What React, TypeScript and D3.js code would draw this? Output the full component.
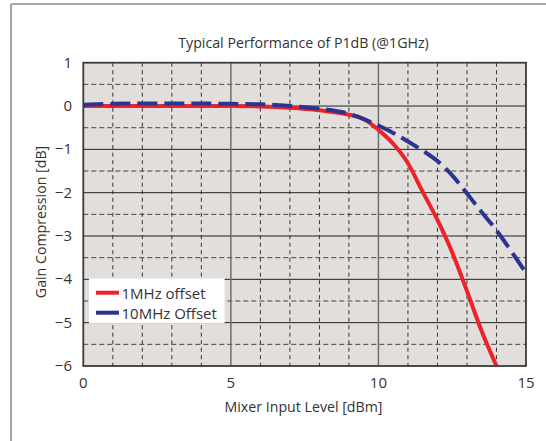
import React from "react";
import * as d3 from "d3";

const xRed = [0, 1, 2, 3, 4, 5, 6, 7, 8, 9, 9.5, 10, 10.5, 11, 11.5, 12, 12.5, 13, 13.5, 14];
const yRed = [0, 0, 0, 0, 0, 0, -0.01, -0.04, -0.1, -0.2, -0.3, -0.55, -0.87, -1.32, -1.98, -2.63, -3.38, -4.27, -5.2, -6];
const xBlue = [0, 1, 2, 3, 4, 5, 6, 7, 8, 9, 9.5, 10, 10.5, 11, 11.5, 12, 12.5, 13, 13.5, 14, 14.5, 15];
const yBlue = [0.03, 0.05, 0.06, 0.06, 0.06, 0.05, 0.04, 0.0, -0.06, -0.18, -0.3, -0.45, -0.62, -0.82, -1.03, -1.27, -1.6, -2.02, -2.45, -2.87, -3.35, -3.85];
const xTicks = [0, 5, 10, 15];
const yTicks = [1, 0, -1, -2, -3, -4, -5, -6];
const seriesNames = ["1MHz offset", "10MHz Offset"];
const title = "Typical Performance of P1dB (@1GHz)";
const xLabel = "Mixer Input Level [dBm]";
const yLabel = "Gain Compression [dB]";

const W = 546, H = 441;
const L = 83.3, R = 526, T = 62.7, B = 366;
const FONT = "'Open Sans', 'Noto Sans', sans-serif";

export default function App() {
  const x = d3.scaleLinear().domain([0, 15]).range([L, R]);
  const y = d3.scaleLinear().domain([-6, 1]).range([B, T]);
  const line = d3.line<[number, number]>().x(d => x(d[0])).y(d => y(d[1])).curve(d3.curveMonotoneX);
  const red = line(xRed.map((v, i) => [v, yRed[i]] as [number, number])) || "";
  const blue = line(xBlue.map((v, i) => [v, yBlue[i]] as [number, number])) || "";
  const minorX = d3.range(1, 15).filter(v => v % 5 !== 0);
  const minorY = d3.range(-5.5, 1, 1);
  const majorY = d3.range(-5, 1, 1);
  const majorX = [5, 10];
  const fmt = (v: number) => (v < 0 ? "\u2212" + Math.abs(v) : String(v));
  return (
    <svg width={W} height={H} style={{ position: "absolute", left: 0, top: 0 }} fontFamily={FONT}>
      <rect x={0} y={0} width={W} height={H} fill="#fff" />
      <line x1={11} y1={4} x2={W} y2={4} stroke="#8c8c8c" strokeWidth={1.6} />
      <line x1={11} y1={4} x2={11} y2={H} stroke="#8c8c8c" strokeWidth={1.6} />
      <defs>
        <clipPath id="plot"><rect x={L} y={T} width={R - L} height={B - T} /></clipPath>
      </defs>
      <rect x={L} y={T} width={R - L} height={B - T} fill="#e2dedb" />
      {minorX.map(v => (
        <line key={"mx" + v} x1={x(v)} x2={x(v)} y1={T} y2={B} stroke="#222" strokeWidth={0.9} strokeDasharray="4,3.5" />
      ))}
      {minorY.map(v => (
        <line key={"my" + v} x1={L} x2={R} y1={y(v)} y2={y(v)} stroke="#333" strokeWidth={0.9} strokeDasharray="5,3" />
      ))}
      {majorY.map(v => (
        <line key={"My" + v} x1={L} x2={R} y1={y(v)} y2={y(v)} stroke="#222" strokeWidth={1} />
      ))}
      {majorX.map(v => (
        <line key={"Mx" + v} x1={x(v)} x2={x(v)} y1={T} y2={B} stroke="#6e6e6e" strokeWidth={1.5} />
      ))}
      <g clipPath="url(#plot)">
        <path d={red} fill="none" stroke="#ee2229" strokeWidth={4} strokeLinejoin="round" />
        <path d={blue} fill="none" stroke="#2b3590" strokeWidth={4} strokeDasharray="20,7" />
      </g>
      <rect x={L} y={T} width={R - L} height={B - T} fill="none" stroke="#3a3a3a" strokeWidth={1.8} />
      <rect x={89} y={278.3} width={135.6} height={45} fill="#fff" />
      <line x1={96} x2={119} y1={292.7} y2={292.7} stroke="#ee2229" strokeWidth={4} />
      <line x1={96} x2={119} y1={312.7} y2={312.7} stroke="#2b3590" strokeWidth={4} />
      <text x={121.5} y={298.5} fontSize={15} fill="#333">{seriesNames[0]}</text>
      <text x={121.5} y={318.5} fontSize={15} fill="#333">{seriesNames[1]}</text>
      {yTicks.map(v => (
        <text key={"yt" + v} x={72} y={y(v) + 5} fontSize={15} fill="#333" textAnchor="end">{fmt(v)}</text>
      ))}
      {xTicks.map(v => (
        <text key={"xt" + v} x={x(v)} y={388} fontSize={15} fill="#333" textAnchor="middle">{fmt(v)}</text>
      ))}
      <text x={303.5} y={48} fontSize={14.2} fill="#333" textAnchor="middle">{title}</text>
      <text x={303.5} y={412} fontSize={14.2} fill="#333" textAnchor="middle">{xLabel}</text>
      <text transform={`translate(45.5,222) rotate(-90)`} fontSize={14.2} fill="#333" textAnchor="middle">{yLabel}</text>
    </svg>
  );
}
